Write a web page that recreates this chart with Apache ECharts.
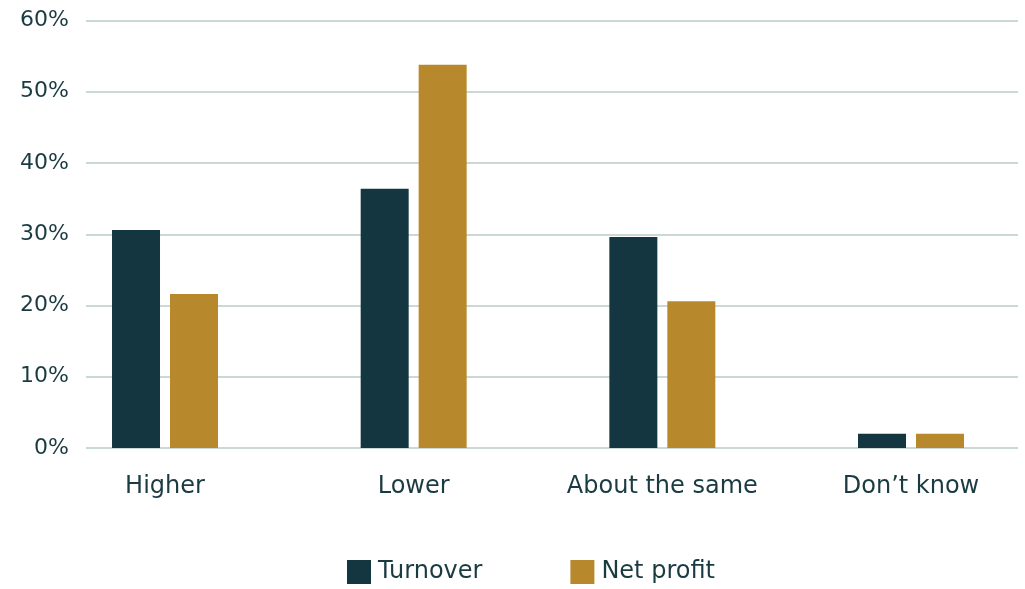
<!DOCTYPE html>
<html>
<head>
<meta charset="utf-8">
<script src="https://cdn.jsdelivr.net/npm/echarts@6/dist/echarts.min.js"></script>
<style>
  html, body { margin: 0; padding: 0; background: #ffffff; overflow: hidden; }
  #chart { width: 1060px; height: 589px; }
</style>
</head>
<body>
<div id="chart"></div>
<script>
// Survey answers and the share of respondents (%) per measure
const categories = ['Higher', 'Lower', 'About the same', 'Don\u2019t know'];
const turnover = [30.6, 36.4, 29.6, 2.0];
const netProfit = [21.6, 53.8, 20.6, 2.0];
const yTicks = { min: 0, max: 60, interval: 10 };

const FONT = '"DejaVu Sans", "Noto Sans", sans-serif';
const TEXT = '#1b3b42';
const DARK = '#143640';
const GOLD = '#b8892c';
const GRID_LINE = '#b9ccc8';

// the canvas is a little wider than the visible page so the last
// category band may run past the right edge of the gridlines
const chart = echarts.init(document.getElementById('chart'));
chart.setOption({
  animation: false,
  legend: {
    bottom: 5,
    left: 347,
    padding: 0,
    itemWidth: 24,
    itemHeight: 24,
    itemGap: 88,
    icon: 'rect',
    textStyle: { fontFamily: FONT, fontSize: 24, color: TEXT, padding: [8, 0, 0, 2] },
    data: ['Turnover', 'Net profit']
  },
  grid: [
    // value scale with horizontal gridlines
    { left: 86, right: 42, top: 20.5, bottom: 141, containLabel: false },
    // category bands for the bar groups
    { left: 40.67, right: 24.66, top: 20.5, bottom: 141, containLabel: false }
  ],
  xAxis: [
    {
      gridIndex: 0, type: 'value', min: 0, max: 1, show: false
    },
    {
      gridIndex: 1, type: 'category', data: categories,
      axisLine: { show: false }, axisTick: { show: false },
      axisLabel: { fontFamily: FONT, fontSize: 24, color: TEXT, margin: 27 }
    }
  ],
  yAxis: [
    {
      gridIndex: 0, type: 'value', min: yTicks.min, max: yTicks.max, interval: yTicks.interval,
      axisLine: { show: false }, axisTick: { show: false },
      axisLabel: { fontFamily: FONT, fontSize: 22, color: TEXT, margin: 17, padding: [3, 0, 0, 0], formatter: '{value}%' },
      splitLine: { lineStyle: { color: GRID_LINE, width: 1.5 } }
    },
    {
      gridIndex: 1, type: 'value', min: yTicks.min, max: yTicks.max, interval: yTicks.interval,
      show: false, splitLine: { show: false }
    }
  ],
  series: [
    {
      name: 'Turnover', type: 'bar', xAxisIndex: 1, yAxisIndex: 1,
      data: turnover, barWidth: 48, barGap: '20.8%',
      itemStyle: { color: DARK }
    },
    {
      name: 'Net profit', type: 'bar', xAxisIndex: 1, yAxisIndex: 1,
      data: netProfit, barWidth: 48, barGap: '20.8%',
      itemStyle: { color: GOLD }
    }
  ]
});
</script>
</body>
</html>
